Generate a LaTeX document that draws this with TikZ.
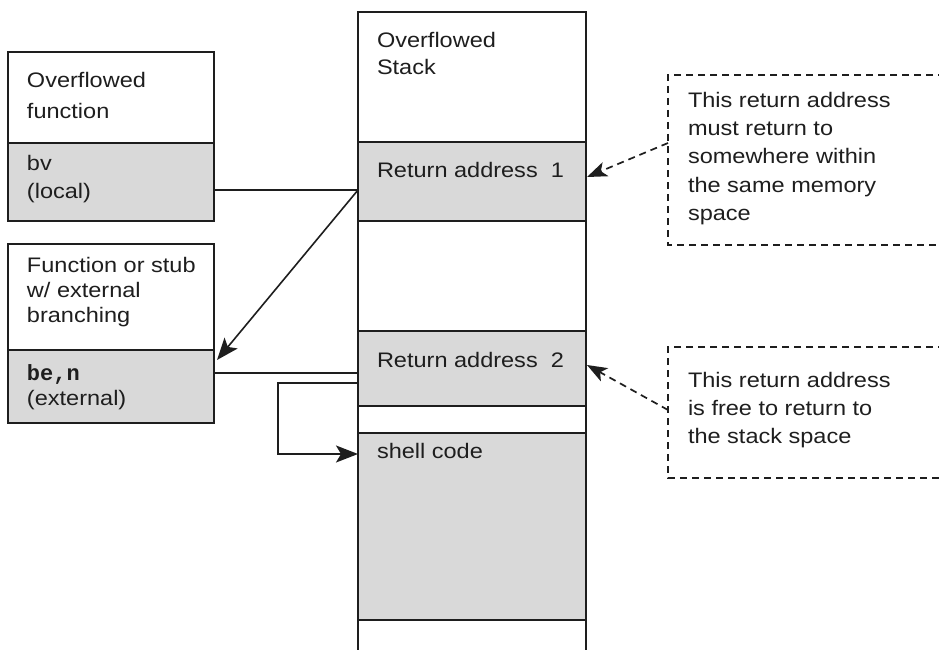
\documentclass[tikz,border=0pt]{standalone}
\usepackage{fontspec}
\setmainfont{Liberation Sans}[FakeStretch=1.12]
\setmonofont{Liberation Mono}
\usetikzlibrary{arrows.meta,calc}
\definecolor{shade}{HTML}{D9D9D9}
\definecolor{ink}{HTML}{1E1E1E}
\begin{document}
\begin{tikzpicture}[x=1pt,y=-1pt,
  seg/.style={draw=ink,line width=1.8pt,anchor=north west,inner sep=0pt,outer sep=0pt,minimum width=#1},
  seg/.default=206pt,
  graybox/.style={fill=shade},
  lbl/.style={anchor=north west,inner sep=0pt,outer sep=0pt,align=left,text=ink},
  conn/.style={draw=ink,line width=1.6pt},
  solidarrow/.style={arrows={-Stealth[length=22pt,width=17pt,inset=5pt]}},
  dasharrow/.style={arrows={-Stealth[length=20pt,width=15pt,inset=5pt,sep=0pt]}},
  dashline/.style={draw=ink,line width=1.7pt,dash pattern=on 7pt off 5pt}
]
\clip (0,0) rectangle (939,650);
\fill[white] (0,0) rectangle (939,650);

% left boxes
\node[seg,minimum height=91pt] (f1) at (8,52) {};
\node[seg,graybox,minimum height=78pt] (bv) at (8,143) {};
\node[seg,minimum height=106pt] (f2) at (8,244) {};
\node[seg,graybox,minimum height=73pt] (ben) at (8,350) {};

% stack
\node[seg=228pt,minimum height=130pt] (s0) at (358,12) {};
\node[seg=228pt,graybox,minimum height=79pt] (ra1) at (358,142) {};
\node[seg=228pt,minimum height=110pt] (s2) at (358,221) {};
\node[seg=228pt,graybox,minimum height=75pt] (ra2) at (358,331) {};
\node[seg=228pt,minimum height=27pt] (s4) at (358,406) {};
\node[seg=228pt,graybox,minimum height=187pt] (sc) at (358,433) {};
\node[seg=228pt,minimum height=60pt] (s6) at (358,620) {};

% texts
\node[lbl,font=\fontsize{21}{31}\selectfont] (t1) at (27,72) {Overflowed\\function};
\node[lbl,font=\fontsize{21}{28}\selectfont] (t2) at (27,155) {bv\\(local)};
\node[lbl,font=\fontsize{21}{25}\selectfont] (t3) at (27,257) {Function or stub\\w/ external\\branching};
\node[lbl,font=\fontsize{21}{25}\selectfont] (t4) at (27,365) {\ttfamily\bfseries\fontsize{22}{25}\selectfont be,n\\\rmfamily\mdseries\fontsize{21}{25}\selectfont (external)};
\node[lbl,font=\fontsize{21}{27.5}\selectfont] (t5) at (377,32) {Overflowed\\Stack};
\node[lbl,font=\fontsize{21}{28}\selectfont] (t6) at (377,162) {Return address\ \ 1};
\node[lbl,font=\fontsize{21}{28}\selectfont] (t7) at (377,352) {Return address\ \ 2};
\node[lbl,font=\fontsize{21}{28}\selectfont] (t8) at (377,443) {shell code};
\node[lbl,font=\fontsize{21}{28.3}\selectfont] (t9) at (688,92) {This return address\\must return to\\somewhere within\\the same memory\\space};
\node[lbl,font=\fontsize{21}{28}\selectfont] (t10) at (688,372) {This return address\\is free to return to\\the stack space};

% dashed note boxes (open to the right)
\coordinate (naTL) at (668,75);
\coordinate (naBL) at (668,245);
\coordinate (nbTL) at (668,347);
\coordinate (nbBL) at (668,478);
\draw[dashline] (945,75) -- (naTL) -- (naBL) -- (945,245);
\draw[dashline] (945,347) -- (nbTL) -- (nbBL) -- (945,478);

% connectors
\coordinate (j1) at (ra1.west |- 0,190);
\draw[conn] (bv.east |- j1) -- (j1);
\draw[conn,solidarrow] (j1) -- ($(ben.north east)+(3,10)$);
\coordinate (j2) at (ra2.west |- 0,373);
\draw[conn] (ben.east |- j2) -- (j2);
\coordinate (j3) at (ra2.west |- 0,383);
\coordinate (j4) at (sc.west |- 0,454);
\draw[conn,solidarrow] (j3) -- (278,383) -- (278,454) -- (j4);

% dashed arrows to return addresses
\draw[dashline,dasharrow] (naTL |- 0,143) -- ($(ra1.east |- 0,177)+(1,0)$);
\draw[dashline,dasharrow] (nbTL |- 0,410) -- ($(ra2.east |- 0,365)+(1,0)$);
\end{tikzpicture}
\end{document}
